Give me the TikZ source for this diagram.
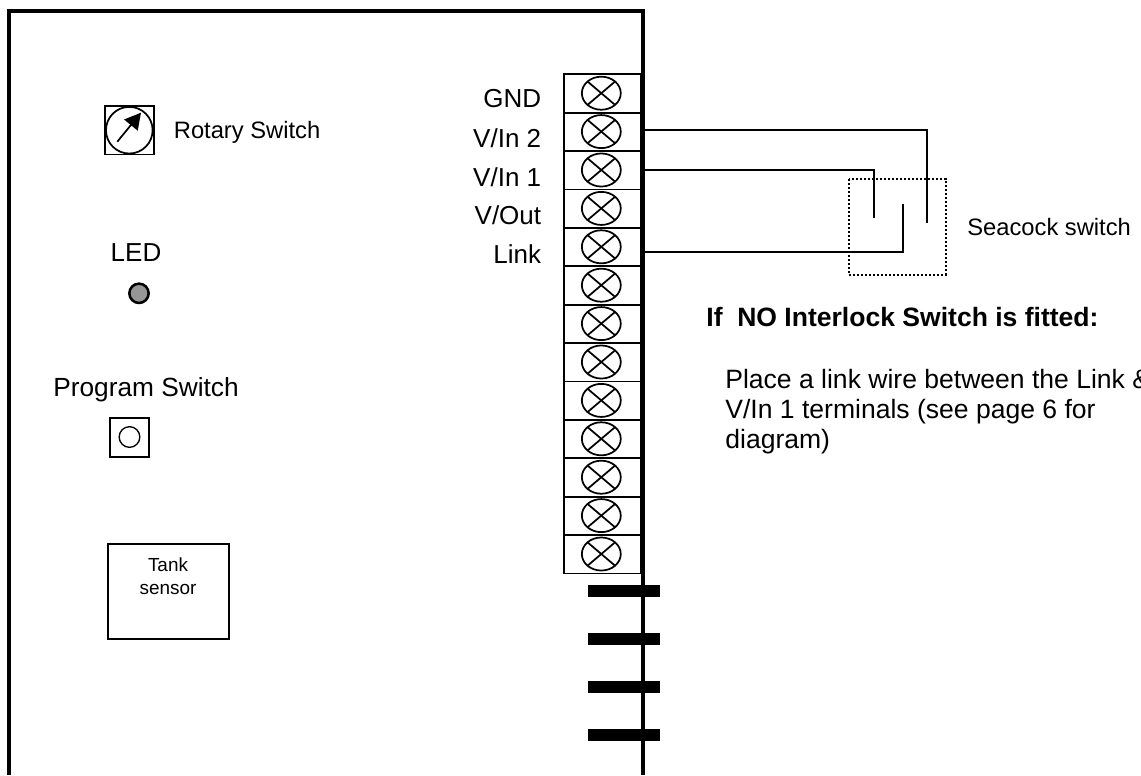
\documentclass[tikz,border=0pt]{standalone}
\usepackage{fontspec}
\setmainfont{Liberation Sans}
\usetikzlibrary{arrows.meta, shapes.geometric}

\tikzset{
	label text/.style = {inner sep = 0, font = \fontsize{19.5}{22.5}\selectfont},
	note text/.style = {inner sep = 0, font = \fontsize{19.9}{22.5}\selectfont},
	mid text/.style = {inner sep = 0, font = \fontsize{17.8}{22.5}\selectfont},
	small text/.style = {inner sep = 0, align = center, font = \fontsize{14.2}{16.5}\selectfont},
	terminal/.style = {draw, minimum width = 57.8pt, minimum height = 28.8pt, outer sep = 0, inner sep = 0},
	screw/.style = {draw, ellipse, minimum width = 29.2pt, minimum height = 24.8pt, outer sep = 0, inner sep = 0},
	wire/.style = {line width = 1.3pt}
}

\begin{document}
\begin{tikzpicture}[x = 0.75pt, y = -0.75pt, line width = 1.3pt]

	\useasboundingbox (0, 0) rectangle (1141, 775);

	% Terminal block

	\foreach \i [evaluate = \i as \ypos using 93.5 + 38.4 * (\i - 1)] in {1, ..., 13} {
		\node [terminal] (term\i) at (602.3, \ypos) {};
		\node [screw] (screw\i) at (601.3, \ypos - 0.3) {};
		\draw (screw\i.north west) -- (screw\i.south east);
		\draw (screw\i.north east) -- (screw\i.south west);
	}

	% Enclosure

	\draw [line width = 3pt] (9, 775) -- (9, 11) -- (643.3, 11) -- (643.3, 775);

	\foreach \ypos in {591.3, 639.3, 687.3, 735.3} {
		\fill (588.3, \ypos - 6) rectangle (660, \ypos + 6);
	}

	% Front panel

	\node [draw, minimum size = 36.6pt, outer sep = 0] (rotarybox) at (129.3, 130.2) {};
	\node [draw, circle, minimum size = 35pt, outer sep = 0, inner sep = 0] (rotary) at (129.3, 130.2) {};
	\coordinate (needletail) at (117.3, 141.7);
	\coordinate (needletip) at (141, 112.7);
	\draw [-{Triangle[length = 12pt, width = 13pt]}] (needletail) -- (needletip);
	\node [mid text, anchor = base west] (rotarytext) at (173, 138) {Rotary Switch};

	\node [label text, anchor = base] (ledtext) at (136, 261) {LED};
	\node [draw, circle, fill = black!41, line width = 1.9pt, minimum size = 14.5pt, inner sep = 0] (led) at (139, 293.3) {};

	\node [label text, font = \fontsize{19.7}{22.5}\selectfont, anchor = base west] (progtext) at (52.5, 396) {Program Switch};
	\node [draw, minimum size = 29pt, outer sep = 0] (progbox) at (129.3, 437.3) {};
	\node [draw, circle, line width = 1pt, minimum size = 15.5pt, inner sep = 0] (prog) at (129.5, 437) {};

	\node [draw, minimum width = 90.7pt, minimum height = 71.5pt, outer sep = 0] (tankbox) at (168.2, 591.3) {};
	\node [small text, anchor = base] (tanktext) at (168, 571.7) {Tank};
	\node [small text, anchor = base] (sensortext) at (168, 594) {sensor};

	% Terminal names

	\node [label text, anchor = base east] (gnd) at (542, 107.7) {GND};
	\node [label text, anchor = base east] (vin2) at (542, 147.7) {V/In 2};
	\node [label text, anchor = base east] (vin1) at (542, 186) {V/In 1};
	\node [label text, anchor = base east] (vout) at (542, 224.7) {V/Out};
	\node [label text, anchor = base east] (link) at (542, 263) {Link};

	% Wires

	\coordinate (vin2corner) at (927, 130.3);
	\coordinate (vin2end) at (927, 223);
	\coordinate (vin1corner) at (873.7, 170.3);
	\coordinate (vin1end) at (873.7, 218.3);
	\coordinate (linkcorner) at (902.7, 252);
	\coordinate (linkend) at (902.7, 204.3);

	\begin{scope}[wire]
		\draw (term2.east |- vin2corner) -- (vin2corner) -- (vin2end);
		\draw (term3.east |- vin1corner) -- (vin1corner) -- (vin1end);
		\draw (term5.east |- linkcorner) -- (linkcorner) -- (linkend);
	\end{scope}

	% Seacock switch

	\draw [line width = 1.3pt, dash pattern = on 1.5pt off 1.5pt] (849.3, 179) rectangle (945.7, 275);
	\node [mid text, anchor = base west] (seacock) at (966.5, 235) {Seacock switch};

	% Notes

	\node [note text, anchor = base west, font = \fontsize{19.9}{22.5}\selectfont\bfseries] (notehead) at (705.5, 326.7) {If\ \ NO Interlock Switch is fitted:};
	\node [note text, anchor = base west] (note1) at (724.5, 388.3) {Place a link wire between the Link \&};
	\node [note text, anchor = base west] (note2) at (724.5, 418.3) {V/In 1 terminals (see page 6 for};
	\node [note text, anchor = base west] (note3) at (724.5, 448.3) {diagram)};

\end{tikzpicture}
\end{document}
